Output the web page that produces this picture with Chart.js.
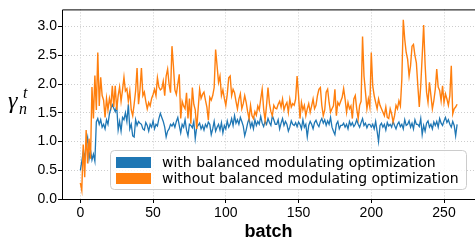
<!DOCTYPE html>
<html>
<head>
<meta charset="utf-8">
<script src="https://cdn.jsdelivr.net/npm/chart.js@4/dist/chart.umd.min.js"></script>
<style>
  html, body { margin: 0; padding: 0; background: #fff; }
  #wrap { width: 475px; height: 245px; }
</style>
</head>
<body>
<div id="wrap"><canvas id="chart" width="475" height="245"></canvas></div>
<script>
// tick labels
const xTicks = [0, 50, 100, 150, 200, 250];
const yTicks = [0, 0.5, 1.0, 1.5, 2.0, 2.5, 3.0];

const seriesNames = ['with balanced modulating optimization', 'without balanced modulating optimization'];

// gamma per batch (batch 0..259)
const withBalanced = [
  0.50, 0.65, 0.82, 0.72, 0.95, 1.07, 0.70, 0.85, 0.68, 0.78,
  0.66, 1.34, 1.40, 1.30, 1.38, 1.25, 1.30, 1.22, 1.38, 1.30,
  1.48, 1.58, 1.64, 1.58, 1.52, 1.62, 1.20, 1.35, 1.18, 1.42,
  1.38, 1.50, 1.35, 1.65, 1.22, 1.30, 1.10, 1.08, 1.38, 1.28,
  1.35, 1.32, 1.30, 1.22,
  1.20, 1.33, 1.28, 1.18, 1.30, 1.25, 1.36, 1.22, 1.30, 1.27,
  1.40, 1.49, 1.42, 1.35, 1.25, 1.08, 1.18, 1.22, 1.30, 1.27,
  1.32, 1.25, 1.35, 1.42, 1.28, 1.15, 1.30, 1.25, 1.38, 1.20,
  1.10, 1.30, 1.28, 1.24, 1.35, 1.05, 1.25, 1.28, 1.32, 1.22,
  1.28, 1.20, 1.30, 1.25, 1.34,
  1.30, 1.12, 1.22, 1.35, 1.18, 1.25, 1.30, 1.20, 1.33, 1.15,
  1.28, 1.22, 1.36, 1.25, 1.30, 1.40, 1.28, 1.45, 1.32, 1.38,
  1.30, 1.42, 1.35, 1.27, 1.10, 1.20, 1.32, 1.40, 1.25, 1.33,
  1.22, 1.38, 1.28, 1.35, 1.30, 1.44, 1.32, 1.26, 1.35, 1.30,
  1.40, 1.33, 1.28, 1.45, 1.38, 1.30,
  1.30, 1.38, 1.22, 1.32, 1.40, 1.28, 1.35, 1.30, 1.18, 1.25,
  1.36, 1.30, 1.28, 1.33, 1.26, 1.34, 1.30, 1.22, 1.38, 1.25,
  1.30, 1.08, 1.28, 1.35, 1.30, 1.22, 1.33, 1.37, 1.30, 1.26,
  1.35, 1.40, 1.32, 1.38, 1.28, 1.36, 1.30, 1.42, 1.25, 1.18,
  1.12, 1.30, 1.35, 1.22, 1.28,
  1.28, 1.32, 1.25, 1.30, 1.22, 1.35, 1.28, 1.33, 1.26, 1.30,
  1.38, 1.30, 1.25, 1.33, 1.40, 1.28, 1.32, 1.24, 1.30, 1.30,
  1.25, 1.30, 1.22, 1.35, 1.18, 1.00, 1.28, 1.32, 1.25, 1.30,
  1.20, 1.33, 1.27, 1.30, 1.25, 1.35, 1.28, 1.22, 1.30, 1.34,
  1.26, 1.30, 1.22, 1.38, 1.28,
  1.30, 1.36, 1.25, 1.32, 1.22, 1.38, 1.30, 1.30, 1.26, 1.40,
  1.12, 1.28, 1.18, 1.32, 1.36, 1.25, 1.30, 1.22, 1.34, 1.28,
  1.35, 1.25, 1.40, 1.32, 1.28, 1.36, 1.42, 1.33, 1.38, 1.30,
  1.25, 1.35, 1.28, 1.10, 1.30
];

const withoutBalanced = [
  0.28, 0.15, 0.95, 0.38, 1.20, 0.62, 1.05, 0.70, 1.95, 1.40,
  2.15, 1.55, 2.55, 1.62, 2.12, 1.80, 1.72, 1.42, 1.75, 1.55,
  1.75, 1.62, 1.97, 1.60, 1.97, 1.55, 1.80, 1.95, 1.70, 1.90,
  2.12, 1.88, 1.92, 1.70, 1.88, 1.55, 1.45, 1.65, 1.88, 2.28,
  1.65, 1.90, 2.28, 1.80,
  1.86, 1.70, 1.57, 1.68, 1.62, 1.75, 1.82, 1.91, 1.80, 2.11,
  1.95, 1.90, 1.92, 2.05, 1.80, 2.14, 2.26, 2.00, 1.85, 2.66,
  2.31, 1.90, 1.82, 2.00, 2.17, 1.40, 1.70, 1.62, 1.57, 1.85,
  1.40, 1.75, 1.31, 1.94, 1.65, 1.55, 1.22, 1.57, 1.91, 1.75,
  1.82, 1.86, 1.72, 1.60, 1.37,
  1.77, 1.72, 1.80, 1.94, 2.60, 2.32, 2.03, 2.14, 1.80, 1.90,
  1.75, 1.63, 1.82, 2.11, 2.14, 1.80, 1.91, 1.85, 1.70, 1.57,
  1.74, 1.83, 1.57, 1.66, 1.80, 1.68, 1.52, 1.40, 1.63, 1.45,
  1.40, 1.52, 1.46, 1.62, 1.55, 1.74, 1.91, 1.57, 1.37, 1.63,
  1.94, 1.66, 1.52, 1.45, 1.63, 1.58,
  1.57, 1.65, 1.70, 1.60, 1.74, 1.55, 1.63, 1.68, 1.51, 1.74,
  1.60, 1.66, 1.63, 1.74, 2.14, 1.80, 1.40, 1.68, 1.55, 1.63,
  1.45, 1.57, 1.66, 1.51, 1.62, 1.74, 1.57, 1.63, 1.80, 1.91,
  1.94, 1.63, 1.45, 1.55, 1.86, 1.91, 1.68, 1.51, 1.57, 1.62,
  1.91, 1.45, 1.68, 1.63, 1.70,
  1.77, 1.92, 1.74, 1.51, 1.68, 1.57, 1.62, 1.40, 1.74, 1.80,
  1.57, 1.40, 1.63, 1.70, 2.83, 2.14, 1.86, 1.57, 1.74, 1.60,
  2.55, 1.97, 1.80, 1.68, 1.57, 1.74, 1.63, 1.57, 1.51, 1.45,
  1.60, 1.42, 1.40, 1.57, 1.48, 1.34, 1.45, 1.63, 1.57, 1.71,
  1.62, 2.08, 3.12, 2.78, 2.55,
  2.43, 2.14, 2.32, 2.66, 2.69, 2.50, 2.37, 1.97, 1.60, 1.97,
  2.49, 3.03, 2.34, 1.86, 1.68, 2.03, 1.80, 1.57, 1.71, 1.91,
  2.26, 1.95, 1.89, 1.71, 1.97, 1.68, 1.83, 1.74, 1.63, 1.80,
  2.32, 1.48, 1.57, 1.60, 1.65
];

const BLUE = '#1f77b4';
const ORANGE = '#ff7f0e';
const TICK_FONT = 'Liberation Sans';

function toPoints(arr) {
  return arr.map((v, i) => ({ x: i, y: v }));
}

// top frame line, axes lines, legend box and the y label
const decorations = {
  id: 'decorations',
  afterDraw(chart) {
    const { ctx, chartArea: a } = chart;
    ctx.save();
    ctx.strokeStyle = '#000';
    ctx.lineWidth = 1;
    ctx.beginPath();
    ctx.moveTo(a.left + 0.5, a.bottom + 0.5);
    ctx.lineTo(a.left + 0.5, a.top + 0.5);
    ctx.lineTo(a.right, a.top + 0.5);
    ctx.moveTo(a.left, a.bottom + 0.5);
    ctx.lineTo(a.right, a.bottom + 0.5);
    ctx.stroke();

    // legend
    const bx = 110.5, by = 150.5, bw = 356, bh = 39;
    ctx.beginPath();
    ctx.roundRect(bx, by, bw, bh, 4);
    ctx.fillStyle = 'rgba(255,255,255,0.8)';
    ctx.fill();
    ctx.strokeStyle = '#cccccc';
    ctx.stroke();
    const order = [1, 0]; // datasets: [orange, blue]; legend lists blue first
    order.forEach((di, k) => {
      const ds = chart.data.datasets[di];
      ctx.fillStyle = ds.borderColor;
      ctx.fillRect(116, 157 + k * 16, 35, 11);
      ctx.fillStyle = '#000';
      ctx.font = '14px "DejaVu Sans"';
      ctx.textBaseline = 'middle';
      ctx.fillText(ds.label, 162, 163 + k * 16);
    });

    // y label: gamma_n^t
    ctx.fillStyle = '#000';
    ctx.textBaseline = 'alphabetic';
    ctx.font = 'italic 24px "Liberation Serif"';
    ctx.fillText('γ', 8, 108);
    ctx.font = 'italic 16px "Liberation Serif"';
    ctx.fillText('n', 19, 114);
    ctx.fillText('t', 23, 98);
    ctx.restore();
  }
};

const gridOpts = {
  color: '#cdcdcd',
  lineWidth: 1,
  tickColor: '#000',
  tickLength: 4,
  tickWidth: 1,
  tickBorderDash: []
};

new Chart(document.getElementById('chart'), {
  type: 'line',
  data: {
    datasets: [
      {
        label: seriesNames[1],
        data: toPoints(withoutBalanced),
        borderColor: ORANGE,
        backgroundColor: ORANGE,
        borderWidth: 1.4,
        pointRadius: 0,
        tension: 0,
        order: 0
      },
      {
        label: seriesNames[0],
        data: toPoints(withBalanced),
        borderColor: BLUE,
        backgroundColor: BLUE,
        borderWidth: 1.3,
        pointRadius: 0,
        tension: 0,
        order: 1
      }
    ]
  },
  options: {
    responsive: false,
    animation: false,
    devicePixelRatio: 1,
    layout: { padding: { top: 8, right: 0, bottom: 0, left: 0 } },
    plugins: {
      legend: { display: false },
      tooltip: { enabled: false }
    },
    scales: {
      x: {
        type: 'linear',
        min: -12.6,
        max: 271.3,
        afterBuildTicks: s => { s.ticks = xTicks.map(v => ({ value: v })); },
        afterFit: s => { s.height = 46; },
        grid: gridOpts,
        border: { display: false, dash: [1, 2] },
        ticks: {
          color: '#000',
          font: { family: TICK_FONT, size: 14 },
          padding: 2,
          maxRotation: 0,
          autoSkip: false,
          callback: v => String(v)
        },
        title: {
          display: true,
          text: 'batch',
          color: '#000',
          font: { family: 'Liberation Sans', size: 18, weight: 'bold' },
          padding: { top: 0, bottom: 2 }
        }
      },
      y: {
        min: 0,
        max: 3.3,
        afterBuildTicks: s => { s.ticks = yTicks.map(v => ({ value: v })); },
        afterFit: s => { s.width = 62; },
        grid: gridOpts,
        border: { display: false, dash: [1, 2] },
        ticks: {
          color: '#000',
          font: { family: TICK_FONT, size: 14 },
          padding: 1,
          callback: v => v.toFixed(1)
        }
      }
    }
  },
  plugins: [decorations]
});
</script>
</body>
</html>
